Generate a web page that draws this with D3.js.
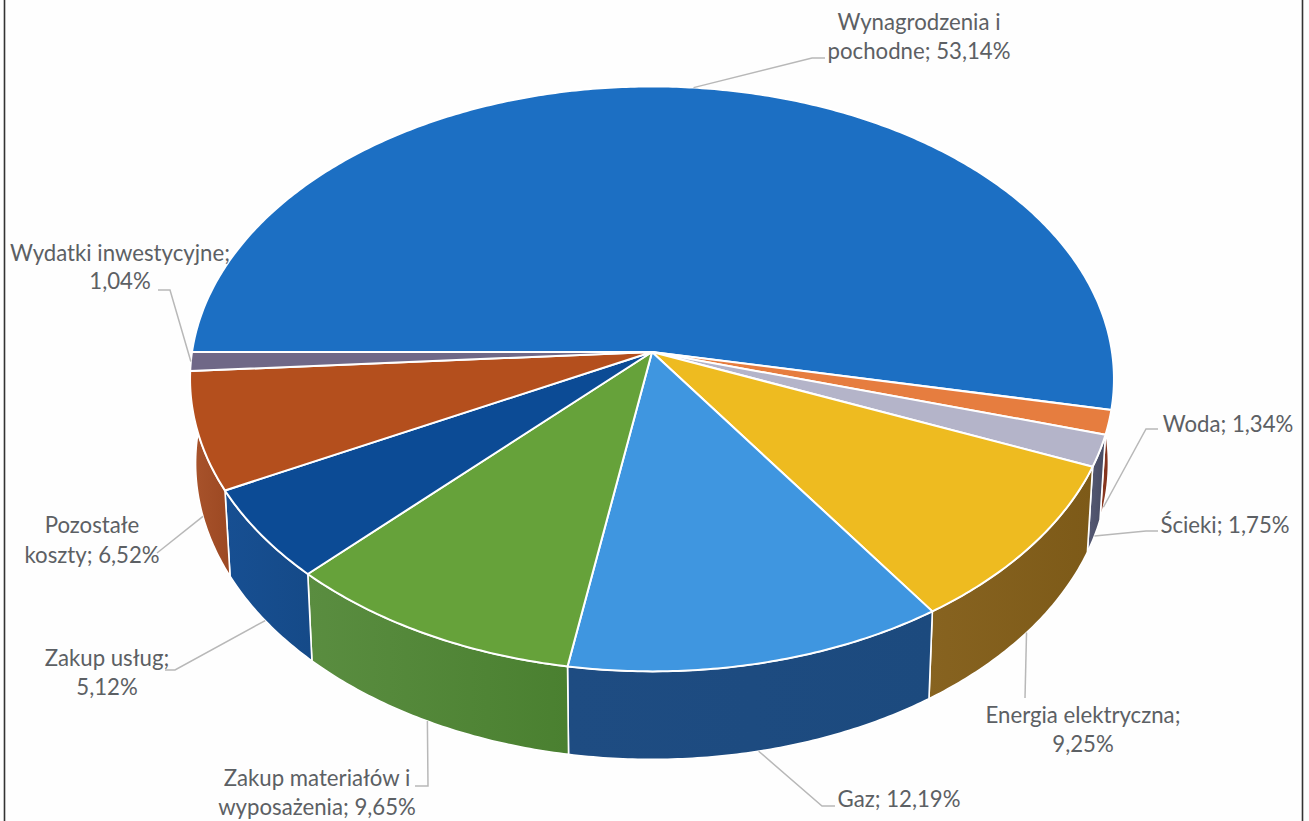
<!DOCTYPE html>
<html>
<head>
<meta charset="utf-8">
<script src="https://cdnjs.cloudflare.com/ajax/libs/d3/7.8.5/d3.min.js"></script>
<style>
  html, body { margin: 0; padding: 0; background: #fefefe; }
  svg { display: block; }
  text { font-family: Lato, sans-serif; font-size: 22.2px; fill: #5c6064; text-anchor: middle; }
</style>
</head>
<body>
<svg></svg>
<script>
// values as printed on the labels, clockwise from the left edge of the pie
const categories = ['Wynagrodzenia i pochodne', 'Woda', 'Ścieki', 'Energia elektryczna', 'Gaz',
  'Zakup materiałów i wyposażenia', 'Zakup usług', 'Pozostałe koszty', 'Wydatki inwestycyjne'];
const shares = [53.14, 1.34, 1.75, 9.25, 12.19, 9.65, 5.12, 6.52, 1.04];

const topColors = ['#1c6fc3', '#e67d3f', '#b4b4c9', '#eebb20', '#3f96e0', '#66a23a', '#0c4b95', '#b44f1d', '#6f6887'];
const sideLight = ['#1c4f8f', '#8c3a22', '#565a75', '#876320', '#1e4c82', '#5a8d40', '#174f92', '#a9542c', '#6f6887'];
const sideDark = ['#1c4f8f', '#7a2c18', '#474b62', '#7d5a18', '#1c4a7e', '#4a8030', '#154a88', '#9c4822', '#6f6887'];

// label layout: lines, centre x, baseline of each line, elbow points of the leader
const labelLayout = [
  { lines: ['Wynagrodzenia i', 'pochodne; 53,14%'], x: 919, y: [30, 59], leader: [[812, 58], [825, 58]], depth: 0 },
  { lines: ['Woda; 1,34%'], x: 1228, y: [432], leader: [[1146, 429], [1158, 429]], depth: 1 },
  { lines: ['Ścieki; 1,75%'], x: 1225, y: [533], leader: [[1146, 531], [1158, 531]], depth: 1 },
  { lines: ['Energia elektryczna;', '9,25%'], x: 1083, y: [723, 752], leader: [[1025, 698]], depth: 1 },
  { lines: ['Gaz; 12,19%'], x: 899, y: [807], leader: [[822, 806], [835, 806]], depth: 1 },
  { lines: ['Zakup materiałów i', 'wyposażenia; 9,65%'], x: 317, y: [786, 815], leader: [[428, 786], [415, 786]], depth: 1 },
  { lines: ['Zakup usług;', '5,12%'], x: 107, y: [666, 695], leader: [[175, 670], [165, 670]], depth: 1 },
  { lines: ['Pozostałe', 'koszty; 6,52%'], x: 92, y: [533, 563], leader: [[157, 553]], depth: 1 },
  { lines: ['Wydatki inwestycyjne;', '1,04%'], x: 120, y: [261, 289], leader: [[170, 290], [158, 290]], depth: 0 }
];

const width = 1309;
const height = 821;
const centerX = 652;
const centerY = 352;
const radiusX = 460;
const radiusY = 290;
const perspective = 0.092;
const rimDepth = 84;

const svg = d3.select('svg')
    .attr('width', width)
    .attr('height', height);

const xScale = d3.scaleLinear().domain([-1, 1]).range([centerX - radiusX, centerX + radiusX]);
const yScale = d3.scaleLinear().domain([-1, 1]).range([centerY - radiusY, centerY + radiusY]);

// angle is d3.pie's (clockwise from 12 o'clock), depth 0 = top face, 1 = bottom of the rim
function project(angle, depth, r = 1) {
  const u = r * Math.sin(angle);
  const v = -r * Math.cos(angle);
  const s = 1 / (1 - perspective * v);
  return [
    xScale(u * s * (1 - 0.012 * depth)),
    yScale(v * s) + depth * (rimDepth + 4 * v)
  ];
}

function arcPoints(a0, a1, depth) {
  const n = Math.max(2, Math.ceil(Math.abs(a1 - a0) / 0.01));
  return d3.range(n + 1).map(i => project(a0 + (a1 - a0) * i / n, depth));
}

const line = d3.line();
const slices = d3.pie()
    .sort(null)
    .startAngle(Math.PI * 1.5)
    .endAngle(Math.PI * 3.5)(shares);

const defs = svg.append('defs');
slices.forEach((d, i) => {
  const grad = defs.append('linearGradient').attr('id', `side${i}`);
  grad.append('stop').attr('offset', '0%').attr('stop-color', sideLight[i]);
  grad.append('stop').attr('offset', '100%').attr('stop-color', sideDark[i]);
});

// the rim: only the front half shows, the slices at both ends run up to the silhouette
const frontStart = Math.PI * 2.5;
const frontEnd = Math.PI * 3.5;
const rimSlices = slices.slice(1, 8);
svg.append('g').selectAll('path')
  .data(rimSlices)
  .enter()
  .append('path')
    .attr('d', (d, i) => {
      const a0 = i === 0 ? frontStart : d.startAngle;
      const a1 = i === rimSlices.length - 1 ? frontEnd : d.endAngle;
      return line(arcPoints(a0, a1, 0).concat(arcPoints(a1, a0, 1))) + 'Z';
    })
    .attr('fill', d => `url(#side${d.index})`)
    .attr('stroke', '#fff')
    .attr('stroke-width', 1.6)
    .attr('stroke-linejoin', 'round');

// top face
svg.append('g').selectAll('path')
  .data(slices)
  .enter()
  .append('path')
    .attr('d', d => line([project(0, 0, 0)].concat(arcPoints(d.startAngle, d.endAngle, 0))) + 'Z')
    .attr('fill', d => topColors[d.index])
    .attr('stroke', '#fff')
    .attr('stroke-width', 2)
    .attr('stroke-linejoin', 'round');

// leaders start from the middle of each slice's outer edge
svg.append('g').selectAll('path')
  .data(slices)
  .enter()
  .append('path')
    .attr('d', d => {
      const layout = labelLayout[d.index];
      const start = project((d.startAngle + d.endAngle) / 2, layout.depth);
      return line([start].concat(layout.leader));
    })
    .attr('fill', 'none')
    .attr('stroke', '#b8b8b8')
    .attr('stroke-width', 1.5);

const labels = svg.append('g').selectAll('text')
  .data(labelLayout)
  .enter()
  .append('text');
labels.selectAll('tspan')
  .data(d => d.lines.map((t, i) => ({ t, x: d.x, y: d.y[i] })))
  .enter()
  .append('tspan')
    .attr('x', d => d.x)
    .attr('y', d => d.y)
    .text(d => d.t);

// scan edges of the page frame
svg.append('g').selectAll('line')
  .data([4.5, 1302.5])
  .enter()
  .append('line')
    .attr('x1', d => d)
    .attr('x2', d => d)
    .attr('y1', 0)
    .attr('y2', height)
    .attr('stroke', '#333')
    .attr('stroke-width', 1.6);
</script>
</body>
</html>
